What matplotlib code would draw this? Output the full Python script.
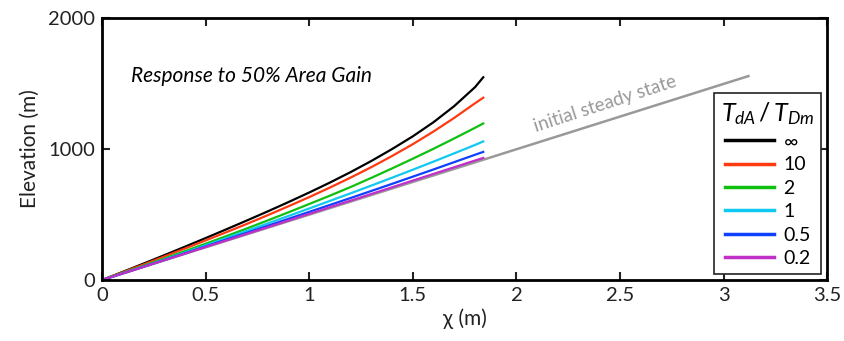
import matplotlib
matplotlib.use("Agg")
import matplotlib.pyplot as plt

plt.rcParams['font.family'] = ['Lato', 'DejaVu Sans']
plt.rcParams['mathtext.fontset'] = 'custom'
plt.rcParams['mathtext.it'] = 'Lato:italic'
plt.rcParams['mathtext.rm'] = 'Lato'

# chi sample points (m)
chi = [0, 0.1, 0.2, 0.3, 0.4, 0.5, 0.6, 0.7, 0.8, 0.9, 1.0,
       1.1, 1.2, 1.3, 1.4, 1.5, 1.6, 1.7, 1.8, 1.84]
# elevation (m) for each T_dA/T_Dm ratio
z_inf = [0, 62, 125, 189, 254, 320, 387, 455, 524, 595, 668,
         744, 824, 909, 1000, 1097, 1205, 1328, 1472, 1548]
z_10 = [0, 59, 118, 179, 240, 302, 365, 429, 495, 563, 633,
        706, 782, 862, 947, 1037, 1134, 1238, 1349, 1392]
z_2 = [0, 54, 108, 164, 220, 277, 335, 394, 455, 517, 580,
       644, 710, 780, 852, 926, 1002, 1081, 1162, 1195]
z_1 = [0, 51, 103, 156, 210, 265, 320, 376, 432, 489, 546,
       604, 662, 721, 781, 842, 904, 967, 1031, 1058]
z_05 = [0, 50, 101, 152, 204, 256, 309, 361, 414, 467, 520,
        573, 626, 680, 734, 789, 844, 900, 956, 978]
z_02 = [0, 50, 100, 151, 201, 252, 302, 353, 403, 454, 505,
        556, 606, 657, 708, 759, 810, 861, 912, 932]
# initial steady state profile
chi_ss = [0, 3.12]
z_ss = [0, 1557]

labels = [r'$\infty$', '10', '2', '1', '0.5', '0.2']
series = [z_inf, z_10, z_2, z_1, z_05, z_02]
colors = ['#000000', '#ff3a10', '#10c010', '#10c8f0', '#1040ff', '#c030c8']

fig = plt.figure(figsize=(8.44, 3.41), dpi=100)
ax = fig.add_axes([0.121, 0.179, 0.859, 0.768])

ax.plot(chi_ss, z_ss, color='#999999', lw=1.8)
handles = []
for z, c, lab in zip(series, colors, labels):
    h, = ax.plot(chi, z, color=c, lw=1.6, label=lab)
    handles.append(h)

ax.set_xlim(0, 3.5)
ax.set_ylim(0, 2000)
ax.set_xticks([0, 0.5, 1, 1.5, 2, 2.5, 3, 3.5])
ax.set_xticklabels(['0', '0.5', '1', '1.5', '2', '2.5', '3', '3.5'])
ax.set_yticks([0, 1000, 2000])
ax.tick_params(direction='in', length=6, width=1.5, top=True, right=True,
               labelsize=14.5, colors='#222222', pad=5)
for s in ax.spines.values():
    s.set_linewidth(2)
ax.set_xlabel('\u03c7 (m)', fontsize=15, color='#222222', labelpad=3)
ax.set_ylabel('Elevation (m)', fontsize=15, color='#222222', labelpad=6)

ax.text(0.14, 1560, 'Response to 50% Area Gain', fontsize=15, style='italic',
        va='center', ha='left')
ax.text(2.43, 1345, 'initial steady state', fontsize=13.5, color='#999999',
        rotation=18, rotation_mode='anchor', ha='center', va='center')

leg = ax.legend(handles=handles, loc='lower right', bbox_to_anchor=(0.992, 0.023),
                borderaxespad=0, title=r'$T_{dA}\,/\,T_{Dm}$', title_fontsize=18,
                fontsize=14, handlelength=2.5, fancybox=False, framealpha=1,
                edgecolor='#222222', labelspacing=0.33, borderpad=0.35,
                handletextpad=0.5)
leg.get_frame().set_linewidth(1.2)
for line in leg.get_lines():
    line.set_linewidth(2.5)

fig.savefig('out.png', dpi=100)
